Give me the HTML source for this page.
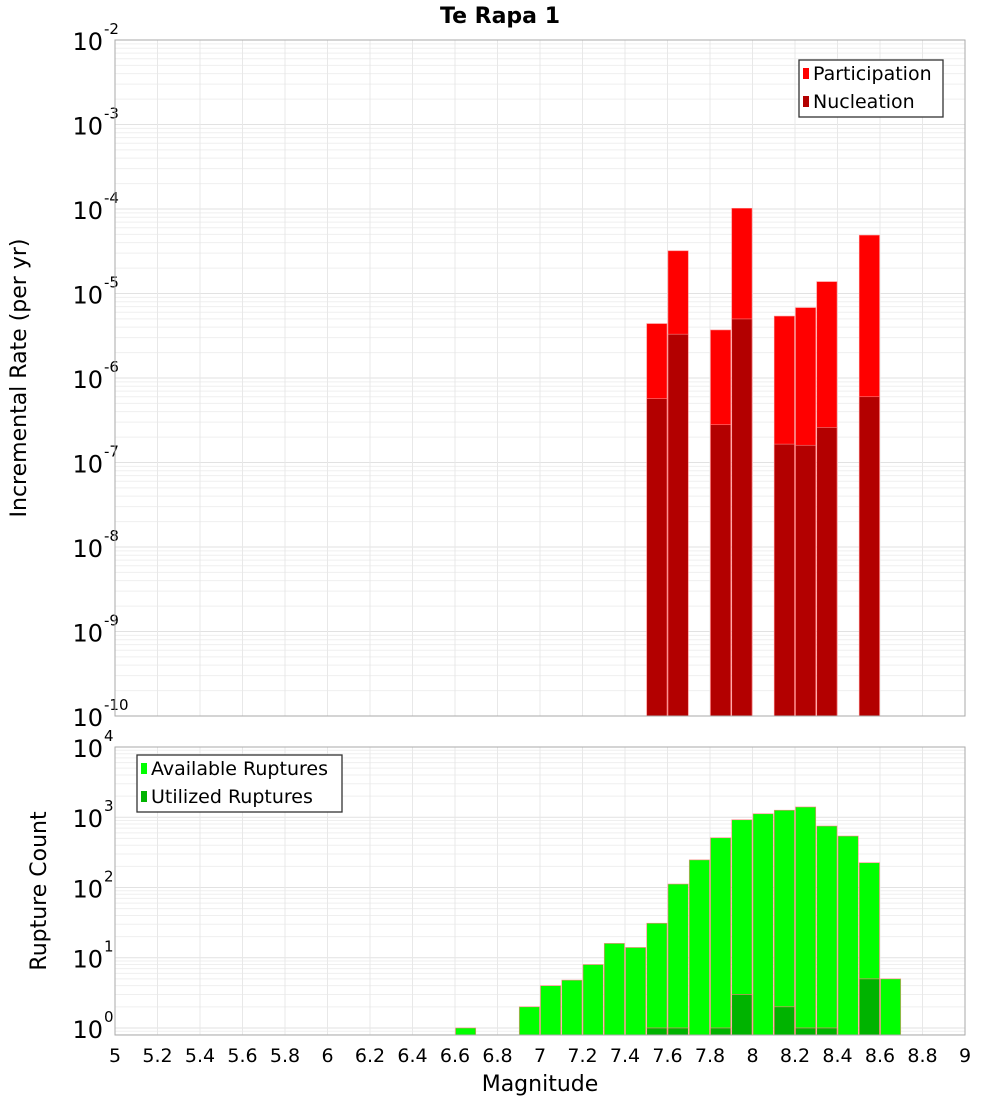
<!DOCTYPE html>
<html><head><meta charset="utf-8"><style>
body{margin:0;background:#fff;}
svg text{font-family:"DejaVu Sans","Liberation Sans",sans-serif;fill:#000;}
</style></head><body>
<svg id="c" width="1000" height="1100" xmlns="http://www.w3.org/2000/svg"></svg>
<script>
const mags = [7.55,7.65,7.85,7.95,8.15,8.25,8.35,8.55];
const participation = [4.4e-6,3.2e-5,3.7e-6,1.02e-4,5.4e-6,6.8e-6,1.38e-5,4.9e-5];
const nucleation = [5.7e-7,3.3e-6,2.8e-7,5.0e-6,1.65e-7,1.6e-7,2.6e-7,6.0e-7];
const availMags = [6.65,6.95,7.05,7.15,7.25,7.35,7.45,7.55,7.65,7.75,7.85,7.95,8.05,8.15,8.25,8.35,8.45,8.55,8.65];
const available = [1,2,4,4.8,8,16,14,31,112,247,510,920,1120,1260,1400,750,540,225,5];
const utilMags = [7.55,7.65,7.85,7.95,8.15,8.25,8.35,8.55];
const utilized = [1,1,1,3,2,1,1,5];
const xTicks = ["5","5.2","5.4","5.6","5.8","6","6.2","6.4","6.6","6.8","7","7.2","7.4","7.6","7.8","8","8.2","8.4","8.6","8.8","9"];

const NS="http://www.w3.org/2000/svg", svg=document.getElementById('c');
function mk(t,a,p){const e=document.createElementNS(NS,t);for(const k in a)e.setAttribute(k,a[k]);(p||svg).appendChild(e);return e;}
const L=115,R=965;
const x=v=>L+(v-5)/4*(R-L);
const T={top:40,bot:716,lo:-10,hi:-2};
const B={top:747,bot:1035,lo:-0.1,hi:4};
const yf=P=>v=>P.bot-(Math.log10(v)-P.lo)/(P.hi-P.lo)*(P.bot-P.top);
const yT=yf(T), yB=yf(B);

function panel(P,yfn,name,labelFrom,labelTo){
  const g=mk('g',{});
  
  
  for(let d=Math.floor(P.lo);d<P.hi;d++){
    for(let m=1;m<10;m++){
      const v=m*Math.pow(10,d), lv=Math.log10(v);
      if(lv<P.lo||lv>P.hi)continue;
      const yy=yfn(v);
      mk('line',{x1:L,x2:R,y1:yy,y2:yy,stroke:m==1?'#e2e2e2':'#efefef','stroke-width':1},g);
    }
  }
  for(let i=0;i<=20;i++){const xx=x(5+i*0.2);mk('line',{x1:xx,x2:xx,y1:P.top,y2:P.bot,stroke:'#e8e8e8','stroke-width':1},g);}
  for(let d=labelFrom;d<=labelTo;d++){
    const yy=yfn(Math.pow(10,d));
    const t=mk('text',{x:103,y:yy+10,'font-size':24,'text-anchor':'end'});
    
    
    t.textContent='10';
    const s=mk('text',{x:104,y:yy-6,'font-size':15});
    
    
    s.textContent=String(d);
  }
}
panel(T,yT,'rate',-10,-2);
panel(B,yB,'count',0,4);

const w=(R-L)/40;
function bar(m,v,fill,yfn,P,name){
  const top=yfn(v);
  const r=mk('rect',{x:x(m-0.05)+0.5,y:top,width:w-1,height:P.bot-top,fill:fill,stroke:'#ff8080','stroke-width':0.6});
  
  
}
mags.forEach((m,i)=>bar(m,participation[i],'#ff0000',yT,T,'participation-bar'));
mags.forEach((m,i)=>bar(m,nucleation[i],'#b30000',yT,T,'nucleation-bar'));
availMags.forEach((m,i)=>bar(m,available[i],'#00ff00',yB,B,'available-bar'));
utilMags.forEach((m,i)=>bar(m,utilized[i],'#00b300',yB,B,'utilized-bar'));

// frames
[T,B].forEach((P,i)=>{const r=mk('rect',{x:L,y:P.top,width:R-L,height:P.bot-P.top,fill:'none',stroke:'#aaaaaa','stroke-width':1});
});

xTicks.forEach((lab,i)=>{const t=mk('text',{x:x(5+i*0.2),y:1062,'font-size':19,'text-anchor':'middle'});
t.textContent=lab;});

function txt(s,a,name){const t=mk('text',a);t.textContent=s;return t;}
txt('Te Rapa 1',{x:500,y:23,'font-size':22,'font-weight':'bold','text-anchor':'middle'},'chart-title');
txt('Magnitude',{x:540,y:1091,'font-size':22,'text-anchor':'middle'},'x-axis-title');
txt('Incremental Rate (per yr)',{x:0,y:0,'font-size':22,'text-anchor':'middle',transform:'translate(26,378) rotate(-90)'},'rate-y-axis-title');
txt('Rupture Count',{x:0,y:0,'font-size':22,'text-anchor':'middle',transform:'translate(46,891) rotate(-90)'},'count-y-axis-title');

function legend(x0,y0,wd,items,name){
  const g=mk('g',{});
  mk('rect',{x:x0,y:y0,width:wd,height:57,fill:'#fff',stroke:'#333','stroke-width':1.3},g);
  items.forEach((it,i)=>{
    mk('rect',{x:x0+4,y:y0+8+i*28,width:6,height:11,fill:it[1]},g);
    const t=mk('text',{x:x0+14,y:y0+20+i*28,'font-size':19},g);
    t.textContent=it[0];
  });
}
legend(799,60,144,[['Participation','#ff0000'],['Nucleation','#b30000']],'rate-legend');
legend(137,755,205,[['Available Ruptures','#00ff00'],['Utilized Ruptures','#00b300']],'count-legend');
</script>
</body></html>
